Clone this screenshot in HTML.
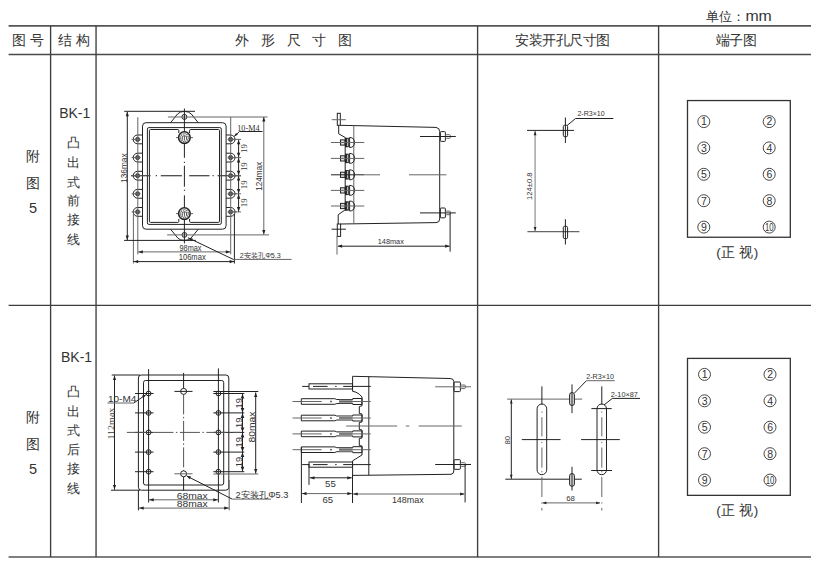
<!DOCTYPE html>
<html><head><meta charset="utf-8">
<style>
html,body{margin:0;padding:0;background:#fff;}
body{width:823px;height:569px;overflow:hidden;position:relative;}
svg{position:absolute;left:0;top:0;}
text{font-family:"Liberation Sans",sans-serif;}
.t{fill:#333;}
.tg{fill:#333;}
.tb line,.tb rect{stroke:#3e3e3e;stroke-width:1.35;fill:none;}
.d line,.d path,.d rect,.d circle,.d polyline{stroke:#222;stroke-width:1;fill:none;}
.d .g{stroke:#666;}
.d .c2{stroke:#444;stroke-width:1.25;}
.d .cl{stroke:#555;stroke-dasharray:20 2.5 1.5 2.5;}
.ar{fill:#222;stroke:none;}
</style></head><body>
<svg width="823" height="569" viewBox="0 0 823 569">
<g class="tb">
<line x1="8.6" y1="25.85" x2="811" y2="25.85" style="stroke:#555;stroke-width:1.6"/>
<line x1="8.6" y1="54.4" x2="811" y2="54.4" style="stroke:#4a4a4a;stroke-width:1.45"/>
<line x1="8.6" y1="305.4" x2="811" y2="305.4"/>
<line x1="8.6" y1="557.0" x2="811" y2="557.0" style="stroke:#555;stroke-width:1.6"/>
<line x1="50.6" y1="25.85" x2="50.6" y2="557"/>
<line x1="96.05" y1="25.85" x2="96.05" y2="557"/>
<line x1="477.6" y1="25.85" x2="477.6" y2="557"/>
<line x1="658.6" y1="25.85" x2="658.6" y2="557"/>
</g>
<text x="706" y="20.8" font-size="13.3" text-anchor="start" class="t">单位：</text>
<text x="745.4" y="20.8" font-size="14.2" text-anchor="start" class="t" textLength="26.4" lengthAdjust="spacingAndGlyphs">mm</text>
<text x="12.3" y="45.4" font-size="13.5" text-anchor="start" class="t" textLength="31.5">图 号</text>
<text x="57.5" y="45.4" font-size="13.5" text-anchor="start" class="t" textLength="32.5">结 构</text>
<text x="235" y="45.4" font-size="13.5" text-anchor="start" class="t" textLength="117">外形尺寸图</text>
<text x="515" y="45.4" font-size="13.5" text-anchor="start" class="t" textLength="95">安装开孔尺寸图</text>
<text x="715.5" y="45.4" font-size="13.5" text-anchor="start" class="t" textLength="41">端子图</text>
<text x="25.9" y="161.2" font-size="14" text-anchor="start" class="t">附</text>
<text x="25.9" y="187.6" font-size="14" text-anchor="start" class="t">图</text>
<text x="29" y="213.3" font-size="14.5" text-anchor="start" class="t">5</text>
<text x="25.9" y="422.2" font-size="14" text-anchor="start" class="t">附</text>
<text x="25.9" y="449.2" font-size="14" text-anchor="start" class="t">图</text>
<text x="29" y="474.3" font-size="14.5" text-anchor="start" class="t">5</text>
<text x="59.2" y="118.2" font-size="14" text-anchor="start" class="t">BK-1</text>
<text x="61" y="361.9" font-size="14" text-anchor="start" class="t">BK-1</text>
<text x="67.3" y="147.2" font-size="13.3" text-anchor="start" class="t">凸</text>
<text x="67.3" y="166.8" font-size="13.3" text-anchor="start" class="t">出</text>
<text x="67.3" y="186.6" font-size="13.3" text-anchor="start" class="t">式</text>
<text x="67.3" y="205.4" font-size="13.3" text-anchor="start" class="t">前</text>
<text x="67.3" y="223.6" font-size="13.3" text-anchor="start" class="t">接</text>
<text x="67.3" y="243.8" font-size="13.3" text-anchor="start" class="t">线</text>
<text x="67.3" y="396.2" font-size="13.3" text-anchor="start" class="t">凸</text>
<text x="67.3" y="415.8" font-size="13.3" text-anchor="start" class="t">出</text>
<text x="67.3" y="435.2" font-size="13.3" text-anchor="start" class="t">式</text>
<text x="67.3" y="454.2" font-size="13.3" text-anchor="start" class="t">后</text>
<text x="67.3" y="473.0" font-size="13.3" text-anchor="start" class="t">接</text>
<text x="67.3" y="492.8" font-size="13.3" text-anchor="start" class="t">线</text>
<g class="d">
<rect x="687.5" y="100.55" width="102.8" height="136.7" style="stroke:#333;stroke-width:1.3"/>
<circle cx="703.8" cy="121.6" r="6" style="stroke:#333;stroke-width:0.9"/>
<circle cx="769.2" cy="121.6" r="6" style="stroke:#333;stroke-width:0.9"/>
<circle cx="703.8" cy="147.9" r="6" style="stroke:#333;stroke-width:0.9"/>
<circle cx="769.2" cy="147.9" r="6" style="stroke:#333;stroke-width:0.9"/>
<circle cx="703.8" cy="174.3" r="6" style="stroke:#333;stroke-width:0.9"/>
<circle cx="769.2" cy="174.3" r="6" style="stroke:#333;stroke-width:0.9"/>
<circle cx="703.8" cy="200.7" r="6" style="stroke:#333;stroke-width:0.9"/>
<circle cx="769.2" cy="200.7" r="6" style="stroke:#333;stroke-width:0.9"/>
<circle cx="703.8" cy="227.1" r="6" style="stroke:#333;stroke-width:0.9"/>
<circle cx="769.2" cy="227.1" r="6" style="stroke:#333;stroke-width:0.9"/>
</g>
<text x="703.9" y="125.39999999999999" font-size="10.5" text-anchor="middle" class="t">1</text>
<text x="769.3000000000001" y="125.39999999999999" font-size="10.5" text-anchor="middle" class="t">2</text>
<text x="703.9" y="151.70000000000002" font-size="10.5" text-anchor="middle" class="t">3</text>
<text x="769.3000000000001" y="151.70000000000002" font-size="10.5" text-anchor="middle" class="t">4</text>
<text x="703.9" y="178.10000000000002" font-size="10.5" text-anchor="middle" class="t">5</text>
<text x="769.3000000000001" y="178.10000000000002" font-size="10.5" text-anchor="middle" class="t">6</text>
<text x="703.9" y="204.5" font-size="10.5" text-anchor="middle" class="t">7</text>
<text x="769.3000000000001" y="204.5" font-size="10.5" text-anchor="middle" class="t">8</text>
<text x="703.9" y="230.9" font-size="10.5" text-anchor="middle" class="t">9</text>
<text x="769.2" y="230.79999999999998" font-size="10" text-anchor="middle" class="t" textLength="8.6" lengthAdjust="spacingAndGlyphs">10</text>
<text x="716.3" y="256.8" font-size="13.5" text-anchor="start" class="t" textLength="42">(正 视)</text>
<g class="d">
<rect x="687.5" y="358.4" width="102.8" height="136.95000000000005" style="stroke:#333;stroke-width:1.3"/>
<circle cx="704.5" cy="374.4" r="6" style="stroke:#333;stroke-width:0.9"/>
<circle cx="770" cy="374.4" r="6" style="stroke:#333;stroke-width:0.9"/>
<circle cx="704.5" cy="400.8" r="6" style="stroke:#333;stroke-width:0.9"/>
<circle cx="770" cy="400.8" r="6" style="stroke:#333;stroke-width:0.9"/>
<circle cx="704.5" cy="427.2" r="6" style="stroke:#333;stroke-width:0.9"/>
<circle cx="770" cy="427.2" r="6" style="stroke:#333;stroke-width:0.9"/>
<circle cx="704.5" cy="453.7" r="6" style="stroke:#333;stroke-width:0.9"/>
<circle cx="770" cy="453.7" r="6" style="stroke:#333;stroke-width:0.9"/>
<circle cx="704.5" cy="480.1" r="6" style="stroke:#333;stroke-width:0.9"/>
<circle cx="770" cy="480.1" r="6" style="stroke:#333;stroke-width:0.9"/>
</g>
<text x="704.6" y="378.2" font-size="10.5" text-anchor="middle" class="t">1</text>
<text x="770.1" y="378.2" font-size="10.5" text-anchor="middle" class="t">2</text>
<text x="704.6" y="404.6" font-size="10.5" text-anchor="middle" class="t">3</text>
<text x="770.1" y="404.6" font-size="10.5" text-anchor="middle" class="t">4</text>
<text x="704.6" y="431.0" font-size="10.5" text-anchor="middle" class="t">5</text>
<text x="770.1" y="431.0" font-size="10.5" text-anchor="middle" class="t">6</text>
<text x="704.6" y="457.5" font-size="10.5" text-anchor="middle" class="t">7</text>
<text x="770.1" y="457.5" font-size="10.5" text-anchor="middle" class="t">8</text>
<text x="704.6" y="483.90000000000003" font-size="10.5" text-anchor="middle" class="t">9</text>
<text x="770" y="483.8" font-size="10" text-anchor="middle" class="t" textLength="8.6" lengthAdjust="spacingAndGlyphs">10</text>
<text x="716.3" y="515" font-size="13.5" text-anchor="start" class="t" textLength="42">(正 视)</text>
<g class="d">
<rect x="142.5" y="122.7" width="83.6" height="106.5" rx="3.5"/>
<rect x="147.4" y="127.6" width="73.9" height="96.8" rx="1.5"/>
<path d="M150.6,129.5 L177.8,129.5 Q178.8,129.5 178.8,130.5 L178.8,133.0 M189.6,133.0 L189.6,130.5 Q189.6,129.5 190.6,129.5 L218.3,129.5 Q219.5,129.5 219.5,130.7 L219.5,221.20000000000002 Q219.5,222.4 218.3,222.4 L190.6,222.4 Q189.6,222.4 189.6,221.4 L189.6,218.9 M178.8,218.9 L178.8,221.4 Q178.8,222.4 177.8,222.4 L150.6,222.4 Q149.4,222.4 149.4,221.20000000000002 L149.4,130.7 Q149.4,129.5 150.6,129.5"/>
<circle cx="184.4" cy="137.6" r="5.8" style="stroke-width:1.6"/>
<circle cx="184.4" cy="137.6" r="3.9" style="stroke:#444;stroke-width:1.3;stroke-dasharray:1.1 0.9"/>
<path d="M182.3,139.79999999999998 L182.3,136.4 Q184.4,135.0 186.5,136.4 L186.5,139.79999999999998 M184.4,135.79999999999998 L184.4,140.6" style="stroke:#444;stroke-width:0.9"/>
<line x1="176" y1="137.6" x2="178" y2="137.6" class="g"/>
<line x1="191" y1="137.6" x2="193" y2="137.6" class="g"/>
<circle cx="184.4" cy="213.6" r="5.8" style="stroke-width:1.6"/>
<circle cx="184.4" cy="213.6" r="3.9" style="stroke:#444;stroke-width:1.3;stroke-dasharray:1.1 0.9"/>
<path d="M182.3,215.79999999999998 L182.3,212.4 Q184.4,211.0 186.5,212.4 L186.5,215.79999999999998 M184.4,211.79999999999998 L184.4,216.6" style="stroke:#444;stroke-width:0.9"/>
<line x1="176" y1="213.6" x2="178" y2="213.6" class="g"/>
<line x1="191" y1="213.6" x2="193" y2="213.6" class="g"/>
<path d="M170.5,122.8 L177.5,114 Q180,111.4 184.4,111.4 Q188.8,111.4 191.3,114 L198.3,122.8"/>
<path d="M170.5,229.2 L178,238.3 Q180.2,240.4 184.4,240.4 Q188.6,240.4 190.8,238.3 L198.3,229.2"/>
<circle cx="184.4" cy="116.9" r="2.5"/>
<circle cx="184.4" cy="234.9" r="2.4"/>
<line x1="167.9" y1="117.0" x2="267.5" y2="117.0" class="g"/>
<line x1="167.2" y1="234.9" x2="269" y2="234.9" class="g"/>
<line x1="184.4" y1="108.5" x2="184.4" y2="131.6"/>
<line x1="184.4" y1="143.6" x2="184.4" y2="157.8"/>
<line x1="184.4" y1="161.8" x2="184.4" y2="163"/>
<line x1="184.4" y1="165.7" x2="184.4" y2="186.7"/>
<line x1="184.4" y1="189.7" x2="184.4" y2="190.9"/>
<line x1="184.4" y1="195.3" x2="184.4" y2="207.6"/>
<line x1="184.4" y1="219.6" x2="184.4" y2="243.4"/>
<line x1="131" y1="175.7" x2="150.6" y2="175.7" class="c2"/>
<line x1="155.8" y1="175.7" x2="157" y2="175.7" class="c2"/>
<line x1="160.8" y1="175.7" x2="181.9" y2="175.7" class="c2"/>
<line x1="189.2" y1="175.7" x2="209.5" y2="175.7" class="c2"/>
<line x1="212.5" y1="175.7" x2="213.7" y2="175.7" class="c2"/>
<line x1="217.5" y1="175.7" x2="241" y2="175.7" class="c2"/>
<path d="M142.5,135.0 L137.6,135.0 A4.4,4.4 0 0 0 137.6,143.8 L142.5,143.8"/>
<circle cx="137.6" cy="139.4" r="2.1" style="fill:#555;stroke:#333;stroke-width:0.8"/>
<line x1="131.6" y1="139.4" x2="140.6" y2="139.4" class="g"/>
<path d="M226.1,135.0 L230.6,135.0 A4.4,4.4 0 0 1 230.6,143.8 L226.1,143.8"/>
<circle cx="230.6" cy="139.4" r="2.1" style="fill:#555;stroke:#333;stroke-width:0.8"/>
<line x1="227.6" y1="139.4" x2="236.6" y2="139.4" class="g"/>
<path d="M142.5,153.2 L137.6,153.2 A4.4,4.4 0 0 0 137.6,162.0 L142.5,162.0"/>
<circle cx="137.6" cy="157.6" r="2.1" style="fill:#555;stroke:#333;stroke-width:0.8"/>
<line x1="131.6" y1="157.6" x2="140.6" y2="157.6" class="g"/>
<path d="M226.1,153.2 L230.6,153.2 A4.4,4.4 0 0 1 230.6,162.0 L226.1,162.0"/>
<circle cx="230.6" cy="157.6" r="2.1" style="fill:#555;stroke:#333;stroke-width:0.8"/>
<line x1="227.6" y1="157.6" x2="236.6" y2="157.6" class="g"/>
<path d="M142.5,171.29999999999998 L137.6,171.29999999999998 A4.4,4.4 0 0 0 137.6,180.1 L142.5,180.1"/>
<circle cx="137.6" cy="175.7" r="2.1" style="fill:#555;stroke:#333;stroke-width:0.8"/>
<line x1="131.6" y1="175.7" x2="140.6" y2="175.7" class="g"/>
<path d="M226.1,171.29999999999998 L230.6,171.29999999999998 A4.4,4.4 0 0 1 230.6,180.1 L226.1,180.1"/>
<circle cx="230.6" cy="175.7" r="2.1" style="fill:#555;stroke:#333;stroke-width:0.8"/>
<line x1="227.6" y1="175.7" x2="236.6" y2="175.7" class="g"/>
<path d="M142.5,189.4 L137.6,189.4 A4.4,4.4 0 0 0 137.6,198.20000000000002 L142.5,198.20000000000002"/>
<circle cx="137.6" cy="193.8" r="2.1" style="fill:#555;stroke:#333;stroke-width:0.8"/>
<line x1="131.6" y1="193.8" x2="140.6" y2="193.8" class="g"/>
<path d="M226.1,189.4 L230.6,189.4 A4.4,4.4 0 0 1 230.6,198.20000000000002 L226.1,198.20000000000002"/>
<circle cx="230.6" cy="193.8" r="2.1" style="fill:#555;stroke:#333;stroke-width:0.8"/>
<line x1="227.6" y1="193.8" x2="236.6" y2="193.8" class="g"/>
<path d="M142.5,207.5 L137.6,207.5 A4.4,4.4 0 0 0 137.6,216.3 L142.5,216.3"/>
<circle cx="137.6" cy="211.9" r="2.1" style="fill:#555;stroke:#333;stroke-width:0.8"/>
<line x1="131.6" y1="211.9" x2="140.6" y2="211.9" class="g"/>
<path d="M226.1,207.5 L230.6,207.5 A4.4,4.4 0 0 1 230.6,216.3 L226.1,216.3"/>
<circle cx="230.6" cy="211.9" r="2.1" style="fill:#555;stroke:#333;stroke-width:0.8"/>
<line x1="227.6" y1="211.9" x2="236.6" y2="211.9" class="g"/>
<line x1="137.8" y1="117.2" x2="137.8" y2="254.4" class="g"/>
<line x1="133.4" y1="214" x2="133.4" y2="263.5" class="g"/>
<line x1="230.7" y1="117" x2="230.7" y2="254.4" class="g"/>
<line x1="234.4" y1="214" x2="234.4" y2="263.5"/>
<line x1="124.2" y1="111.3" x2="195" y2="111.3"/>
<line x1="124.1" y1="240.4" x2="195.8" y2="240.4"/>
<line x1="127.3" y1="112" x2="127.3" y2="240"/>
<polygon class="ar" points="127.30,111.80 125.70,116.30 128.90,116.30"/>
<polygon class="ar" points="127.30,239.90 125.70,235.40 128.90,235.40"/>
<text x="126.6" y="168.2" font-size="8.6" text-anchor="middle" class="t" transform="rotate(-90 126.6 168.2)" textLength="29.5" lengthAdjust="spacingAndGlyphs">136max</text>
<line x1="138" y1="251.9" x2="230.6" y2="251.9" class="g"/>
<polygon class="ar" points="138.30,251.90 142.80,250.30 142.80,253.50"/>
<polygon class="ar" points="230.30,251.90 225.80,250.30 225.80,253.50"/>
<text x="190.5" y="250.6" font-size="8.2" text-anchor="middle" class="tg" textLength="22" lengthAdjust="spacingAndGlyphs">98max</text>
<line x1="133.4" y1="261.6" x2="234.4" y2="261.6"/>
<polygon class="ar" points="133.70,261.60 138.20,260.00 138.20,263.20"/>
<polygon class="ar" points="234.10,261.60 229.60,260.00 229.60,263.20"/>
<text x="192.2" y="259.9" font-size="8.2" text-anchor="middle" class="tg" textLength="27" lengthAdjust="spacingAndGlyphs">106max</text>
<line x1="263.8" y1="117" x2="263.8" y2="234.5" class="g"/>
<polygon class="ar" points="263.80,117.00 262.20,121.50 265.40,121.50"/>
<polygon class="ar" points="263.80,234.50 262.20,230.00 265.40,230.00"/>
<text x="261.6" y="176.3" font-size="8.6" text-anchor="middle" class="t" transform="rotate(-90 261.6 176.3)" textLength="29" lengthAdjust="spacingAndGlyphs">124max</text>
<line x1="238.6" y1="139.4" x2="238.6" y2="211.9"/>
<line x1="232" y1="139.4" x2="241" y2="139.4" class="g"/>
<line x1="232" y1="157.6" x2="241" y2="157.6" class="g"/>
<line x1="232" y1="175.7" x2="241" y2="175.7" class="g"/>
<line x1="232" y1="193.8" x2="241" y2="193.8" class="g"/>
<line x1="232" y1="211.9" x2="241" y2="211.9" class="g"/>
<polygon class="ar" points="238.60,139.90 236.90,144.30 240.30,144.30"/>
<polygon class="ar" points="238.60,157.10 236.90,152.70 240.30,152.70"/>
<text x="246.8" y="148.5" font-size="8.8" text-anchor="middle" class="t" transform="rotate(-90 246.8 148.5)" style="font-family:'Liberation Serif',serif">19</text>
<polygon class="ar" points="238.60,158.10 236.90,162.50 240.30,162.50"/>
<polygon class="ar" points="238.60,175.20 236.90,170.80 240.30,170.80"/>
<text x="246.8" y="166.64999999999998" font-size="8.8" text-anchor="middle" class="t" transform="rotate(-90 246.8 166.64999999999998)" style="font-family:'Liberation Serif',serif">19</text>
<polygon class="ar" points="238.60,176.20 236.90,180.60 240.30,180.60"/>
<polygon class="ar" points="238.60,193.30 236.90,188.90 240.30,188.90"/>
<text x="246.8" y="184.75" font-size="8.8" text-anchor="middle" class="t" transform="rotate(-90 246.8 184.75)" style="font-family:'Liberation Serif',serif">19</text>
<polygon class="ar" points="238.60,194.30 236.90,198.70 240.30,198.70"/>
<polygon class="ar" points="238.60,211.40 236.90,207.00 240.30,207.00"/>
<text x="246.8" y="202.85000000000002" font-size="8.8" text-anchor="middle" class="t" transform="rotate(-90 246.8 202.85000000000002)" style="font-family:'Liberation Serif',serif">19</text>
<text x="237.3" y="131.0" font-size="7.9" text-anchor="start" class="t" style="font-family:'Liberation Serif',serif" textLength="22.2" lengthAdjust="spacingAndGlyphs">10-M4</text>
<line x1="239.5" y1="131.5" x2="262.5" y2="131.5"/>
<line x1="239.5" y1="131.5" x2="234.3" y2="136.3"/>
<polygon class="ar" points="234.00,136.60 236.05,132.93 237.82,134.83"/>
<line x1="187.9" y1="237.7" x2="233.7" y2="259.6"/>
<polygon class="ar" points="188.40,237.90 192.79,238.45 191.58,240.98"/>
<line x1="233.7" y1="259.4" x2="291.6" y2="259.4" class="g"/>
<text x="239.8" y="257.9" font-size="7" text-anchor="start" class="t" textLength="41" lengthAdjust="spacingAndGlyphs">2安装孔Φ5.3</text>
</g>
<g class="d">
<rect x="337.3" y="113.3" width="3" height="12"/>
<line x1="331.7" y1="119.7" x2="345.8" y2="119.7" class="g"/>
<rect x="337.3" y="224" width="3.3" height="12.4"/>
<line x1="331.6" y1="229.2" x2="345.9" y2="229.2"/>
<path d="M340.3,125.3 L436,127.4 Q439.7,127.8 439.7,131.5 L439.7,219 Q439.7,222.6 436,222.6 L340.6,224"/>
<line x1="353.8" y1="125.6" x2="353.8" y2="223.8" class="g"/>
<path d="M338.7,125.3 L338.7,133.8 L345.2,137.5 L345.2,209.8 L338.2,214.7 L338.2,224"/>
<rect x="340.5" y="139.9" width="4.4" height="5.2" style="fill:#ddd"/>
<rect x="345" y="137.8" width="1.9" height="9.4" style="fill:#222;stroke:none"/>
<rect x="346.9" y="138.2" width="1.5" height="8.6" style="stroke-width:0.8"/>
<path d="M349.6,137.5 Q354.5,137.5 354.5,142.5 Q354.5,147.5 349.6,147.5 Z"/>
<line x1="331" y1="142.5" x2="364.3" y2="142.5" class="g"/>
<rect x="340.5" y="155.8" width="4.4" height="5.2" style="fill:#ddd"/>
<rect x="345" y="153.70000000000002" width="1.9" height="9.4" style="fill:#222;stroke:none"/>
<rect x="346.9" y="154.1" width="1.5" height="8.6" style="stroke-width:0.8"/>
<path d="M349.6,153.4 Q354.5,153.4 354.5,158.4 Q354.5,163.4 349.6,163.4 Z"/>
<line x1="331" y1="158.4" x2="364.3" y2="158.4" class="g"/>
<rect x="340.5" y="172.20000000000002" width="4.4" height="5.2" style="fill:#ddd"/>
<rect x="345" y="170.10000000000002" width="1.9" height="9.4" style="fill:#222;stroke:none"/>
<rect x="346.9" y="170.5" width="1.5" height="8.6" style="stroke-width:0.8"/>
<path d="M349.6,169.8 Q354.5,169.8 354.5,174.8 Q354.5,179.8 349.6,179.8 Z"/>
<line x1="331" y1="174.8" x2="364.3" y2="174.8"/>
<rect x="340.5" y="187.8" width="4.4" height="5.2" style="fill:#ddd"/>
<rect x="345" y="185.70000000000002" width="1.9" height="9.4" style="fill:#222;stroke:none"/>
<rect x="346.9" y="186.1" width="1.5" height="8.6" style="stroke-width:0.8"/>
<path d="M349.6,185.4 Q354.5,185.4 354.5,190.4 Q354.5,195.4 349.6,195.4 Z"/>
<line x1="331" y1="190.4" x2="364.3" y2="190.4" class="g"/>
<rect x="340.5" y="203.4" width="4.4" height="5.2" style="fill:#ddd"/>
<rect x="345" y="201.3" width="1.9" height="9.4" style="fill:#222;stroke:none"/>
<rect x="346.9" y="201.7" width="1.5" height="8.6" style="stroke-width:0.8"/>
<path d="M349.6,201.0 Q354.5,201.0 354.5,206.0 Q354.5,211.0 349.6,211.0 Z"/>
<line x1="331" y1="206.0" x2="364.3" y2="206.0" class="g"/>
<line x1="364.3" y1="174.8" x2="380" y2="174.8" class="g"/>
<line x1="409" y1="174.8" x2="446.4" y2="174.8" class="g"/>
<rect x="440.4" y="131.6" width="5" height="9.8" rx="0.8"/>
<rect x="445.4" y="134.7" width="5" height="3.6" rx="1" class="g"/>
<line x1="420" y1="136.5" x2="455.8" y2="136.5"/>
<rect x="440.4" y="208.0" width="5" height="9.8" rx="0.8"/>
<rect x="445.4" y="211.1" width="5" height="3.6" rx="1" class="g"/>
<line x1="420" y1="212.9" x2="455.8" y2="212.9"/>
<line x1="337" y1="236" x2="337" y2="254.6" class="g"/>
<line x1="450.1" y1="213" x2="450.1" y2="251.7"/>
<line x1="338" y1="246.2" x2="449.6" y2="246.2"/>
<polygon class="ar" points="337.60,246.20 342.10,244.60 342.10,247.80"/>
<polygon class="ar" points="449.70,246.20 445.20,244.60 445.20,247.80"/>
<text x="390.8" y="244" font-size="6.8" text-anchor="middle" class="t" textLength="26" lengthAdjust="spacingAndGlyphs">148max</text>
</g>
<g class="d">
<line x1="527" y1="130.4" x2="574" y2="130.4"/>
<line x1="527.4" y1="231.6" x2="579.4" y2="231.6" style="stroke:#666;stroke-width:1.3"/>
<line x1="535.1" y1="131" x2="535.1" y2="231" style="stroke:#999;stroke-width:1.3"/>
<polygon class="ar" points="535.10,131.00 533.70,135.20 536.50,135.20"/>
<polygon class="ar" points="535.10,231.10 533.70,226.90 536.50,226.90"/>
<rect x="563.3" y="125.2" width="4.3" height="11.499999999999986" rx="1.4"/>
<line x1="565.4" y1="117.5" x2="565.4" y2="143"/>
<rect x="563.3" y="226.3" width="4.3" height="12.299999999999983" rx="1.4"/>
<line x1="565.4" y1="219.2" x2="565.4" y2="244.5"/>
<line x1="567" y1="125.6" x2="575.5" y2="118.5"/>
<line x1="575.5" y1="118.5" x2="613.4" y2="118.5"/>
<text x="577.4" y="116.2" font-size="7.3" text-anchor="start" class="t" textLength="27.3" lengthAdjust="spacingAndGlyphs">2-R3×10</text>
<text x="532" y="186.2" font-size="7.2" text-anchor="middle" class="t" transform="rotate(-90 532 186.2)" textLength="27.5" lengthAdjust="spacingAndGlyphs">124±0.8</text>
</g>
<g class="d">
<rect x="138.4" y="375" width="90.4" height="115.2" rx="3"/>
<rect x="143.5" y="380.5" width="80.2" height="104.5" rx="2"/>
<line x1="111.7" y1="375" x2="140" y2="375"/>
<line x1="111" y1="490.2" x2="140" y2="490.2"/>
<line x1="114.5" y1="375.5" x2="114.5" y2="489.7"/>
<polygon class="ar" points="114.50,375.60 112.90,380.10 116.10,380.10"/>
<polygon class="ar" points="114.50,489.60 112.90,485.10 116.10,485.10"/>
<text x="113.6" y="423.6" font-size="8.2" text-anchor="middle" class="tg" transform="rotate(-90 113.6 423.6)" style="font-family:'Liberation Serif',serif" textLength="32" lengthAdjust="spacingAndGlyphs">112max</text>
<line x1="148.6" y1="369.2" x2="148.6" y2="502.5"/>
<line x1="218.4" y1="368.4" x2="218.4" y2="502.5"/>
<line x1="183.6" y1="372.9" x2="183.6" y2="388.4"/>
<line x1="183.6" y1="394.4" x2="183.6" y2="470.8" class="cl"/>
<line x1="183.6" y1="476.8" x2="183.6" y2="490.5"/>
<circle cx="148.6" cy="393.5" r="2.4"/>
<circle cx="218.4" cy="393.5" r="2.4"/>
<line x1="135" y1="393.5" x2="153.5" y2="393.5"/>
<line x1="213.3" y1="393.5" x2="244.3" y2="393.5"/>
<circle cx="148.6" cy="412.9" r="2.4"/>
<circle cx="218.4" cy="412.9" r="2.4"/>
<line x1="135" y1="412.9" x2="153.5" y2="412.9"/>
<line x1="213.3" y1="412.9" x2="244.3" y2="412.9"/>
<circle cx="148.6" cy="432.4" r="2.4"/>
<circle cx="218.4" cy="432.4" r="2.4"/>
<line x1="135" y1="432.4" x2="153.5" y2="432.4"/>
<line x1="213.3" y1="432.4" x2="244.3" y2="432.4"/>
<circle cx="148.6" cy="452.1" r="2.4"/>
<circle cx="218.4" cy="452.1" r="2.4"/>
<line x1="135" y1="452.1" x2="153.5" y2="452.1"/>
<line x1="213.3" y1="452.1" x2="244.3" y2="452.1"/>
<circle cx="148.6" cy="471.7" r="2.4"/>
<circle cx="218.4" cy="471.7" r="2.4"/>
<line x1="135" y1="471.7" x2="153.5" y2="471.7"/>
<line x1="213.3" y1="471.7" x2="244.3" y2="471.7"/>
<circle cx="183.6" cy="391.4" r="3"/>
<circle cx="183.6" cy="473.8" r="3"/>
<line x1="174.4" y1="391.4" x2="192.5" y2="391.4"/>
<line x1="174.4" y1="473.8" x2="192.5" y2="473.8" class="g"/>
<line x1="126.9" y1="432.4" x2="240" y2="432.4" class="cl"/>
<line x1="213.3" y1="391.5" x2="258.3" y2="391.5"/>
<line x1="213.3" y1="474" x2="258.3" y2="474" class="g"/>
<line x1="242.5" y1="393.5" x2="242.5" y2="471.5"/>
<polygon class="ar" points="242.50,393.90 240.70,398.50 244.30,398.50"/>
<polygon class="ar" points="242.50,412.50 240.70,407.90 244.30,407.90"/>
<text x="242.2" y="403.2" font-size="9.4" text-anchor="middle" class="tg" transform="rotate(-90 242.2 403.2)">19</text>
<polygon class="ar" points="242.50,413.30 240.70,417.90 244.30,417.90"/>
<polygon class="ar" points="242.50,432.00 240.70,427.40 244.30,427.40"/>
<text x="242.2" y="422.65" font-size="9.4" text-anchor="middle" class="tg" transform="rotate(-90 242.2 422.65)">19</text>
<polygon class="ar" points="242.50,432.80 240.70,437.40 244.30,437.40"/>
<polygon class="ar" points="242.50,451.70 240.70,447.10 244.30,447.10"/>
<text x="242.2" y="442.25" font-size="9.4" text-anchor="middle" class="tg" transform="rotate(-90 242.2 442.25)">19</text>
<polygon class="ar" points="242.50,452.50 240.70,457.10 244.30,457.10"/>
<polygon class="ar" points="242.50,471.30 240.70,466.70 244.30,466.70"/>
<text x="242.2" y="461.9" font-size="9.4" text-anchor="middle" class="tg" transform="rotate(-90 242.2 461.9)">19</text>
<line x1="255.7" y1="392.5" x2="255.7" y2="473.5"/>
<polygon class="ar" points="255.70,392.50 254.10,397.00 257.30,397.00"/>
<polygon class="ar" points="255.70,473.50 254.10,469.00 257.30,469.00"/>
<text x="254.6" y="427" font-size="9.4" text-anchor="middle" class="tg" transform="rotate(-90 254.6 427)" textLength="31" lengthAdjust="spacingAndGlyphs">80max</text>
<line x1="148.6" y1="499.8" x2="218" y2="499.8" class="g"/>
<polygon class="ar" points="149.20,499.80 153.70,498.20 153.70,501.40"/>
<polygon class="ar" points="217.80,499.80 213.30,498.20 213.30,501.40"/>
<text x="192.2" y="499.4" font-size="8.8" text-anchor="middle" class="tg" textLength="31" lengthAdjust="spacingAndGlyphs">68max</text>
<line x1="229.2" y1="480" x2="229.2" y2="510.4" class="g"/>
<line x1="138.4" y1="490" x2="138.4" y2="510.4"/>
<line x1="138.8" y1="508.1" x2="229" y2="508.1" class="g"/>
<polygon class="ar" points="139.20,508.10 143.70,506.50 143.70,509.70"/>
<polygon class="ar" points="228.70,508.10 224.20,506.50 224.20,509.70"/>
<text x="192.2" y="507.2" font-size="8.8" text-anchor="middle" class="tg" textLength="31" lengthAdjust="spacingAndGlyphs">88max</text>
<text x="108" y="401.8" font-size="9.2" text-anchor="start" class="tg" textLength="28.3" lengthAdjust="spacingAndGlyphs">10-M4</text>
<line x1="107.4" y1="403" x2="133.8" y2="403" class="g"/>
<line x1="133.8" y1="403" x2="145.5" y2="395"/>
<polygon class="ar" points="146.20,394.50 143.53,398.03 141.94,395.72"/>
<line x1="187.1" y1="476.2" x2="232.2" y2="499.1"/>
<polygon class="ar" points="186.40,475.80 191.00,476.46 189.64,479.13"/>
<line x1="232.2" y1="499.1" x2="271" y2="499.1" class="g"/>
<text x="235.4" y="498.3" font-size="9" text-anchor="start" class="tg" textLength="53" lengthAdjust="spacingAndGlyphs">2安装孔Φ5.3</text>
</g>
<g class="d">
<path d="M352.6,460.9 L352.6,475.4 L451,474.3 Q453.8,474 453.8,471 L453.8,381.5 Q453.8,378.6 450.1,378.5 L352.6,376.3 L352.6,391.3 Q356,391.6 359.3,394.2 L362,397 L362,405.8 L359.3,406.5 L359.3,413.5 L362,414 L362,422 L359.3,422.5 L359.3,429.5 L362,430 L362,438 L359.3,438.5 L359.3,445.5 L362,446 L362,455 Q357,458 352.6,460.9"/>
<line x1="368.8" y1="376.5" x2="368.8" y2="475.2"/>
<rect x="309" y="383.79999999999995" width="43.5" height="5.2"/>
<line x1="302.2" y1="386.4" x2="309" y2="386.4"/>
<line x1="352.5" y1="386.4" x2="370.8" y2="386.4"/>
<line x1="313" y1="386.4" x2="327.6" y2="386.4"/>
<line x1="335.2" y1="386.4" x2="336.6" y2="386.4"/>
<line x1="343.2" y1="386.4" x2="352.5" y2="386.4"/>
<rect x="309" y="462.0" width="43.5" height="5.2"/>
<line x1="302.2" y1="464.6" x2="309" y2="464.6"/>
<line x1="352.5" y1="464.6" x2="370.8" y2="464.6"/>
<line x1="313" y1="464.6" x2="327.6" y2="464.6"/>
<line x1="335.2" y1="464.6" x2="336.6" y2="464.6"/>
<line x1="343.2" y1="464.6" x2="352.5" y2="464.6"/>
<path d="M301.3,398.7 L334.8,398.7 L336.8,399.5 L352.8,399.5 L352.8,398.5 L362,398.5 L362,404.5 L352.8,404.5 L352.8,403.5 L336.8,403.5 L334.8,404.3 L301.3,404.3 Z"/>
<rect x="339" y="399.7" width="13.5" height="3.6" style="fill:#999;stroke:none"/>
<line x1="292.5" y1="401.5" x2="321.7" y2="401.5" class="g"/>
<line x1="339.2" y1="401.5" x2="370.8" y2="401.5" class="g"/>
<circle cx="331" cy="401.5" r="0.9" style="fill:#555;stroke:none"/>
<path d="M301.3,415.2 L334.8,415.2 L336.8,416.0 L352.8,416.0 L352.8,415.0 L362,415.0 L362,421.0 L352.8,421.0 L352.8,420.0 L336.8,420.0 L334.8,420.8 L301.3,420.8 Z"/>
<rect x="339" y="416.2" width="13.5" height="3.6" style="fill:#999;stroke:none"/>
<line x1="292.5" y1="418.0" x2="321.7" y2="418.0" class="g"/>
<line x1="339.2" y1="418.0" x2="370.8" y2="418.0" class="g"/>
<circle cx="331" cy="418.0" r="0.9" style="fill:#555;stroke:none"/>
<path d="M301.3,431.09999999999997 L334.8,431.09999999999997 L336.8,431.9 L352.8,431.9 L352.8,430.9 L362,430.9 L362,436.9 L352.8,436.9 L352.8,435.9 L336.8,435.9 L334.8,436.7 L301.3,436.7 Z"/>
<rect x="339" y="432.09999999999997" width="13.5" height="3.6" style="fill:#999;stroke:none"/>
<line x1="292.5" y1="433.9" x2="321.7" y2="433.9" class="g"/>
<line x1="339.2" y1="433.9" x2="370.8" y2="433.9" class="g"/>
<circle cx="331" cy="433.9" r="0.9" style="fill:#555;stroke:none"/>
<path d="M301.3,446.9 L334.8,446.9 L336.8,447.7 L352.8,447.7 L352.8,446.7 L362,446.7 L362,452.7 L352.8,452.7 L352.8,451.7 L336.8,451.7 L334.8,452.5 L301.3,452.5 Z"/>
<rect x="339" y="447.9" width="13.5" height="3.6" style="fill:#999;stroke:none"/>
<line x1="292.5" y1="449.7" x2="321.7" y2="449.7" class="g"/>
<line x1="339.2" y1="449.7" x2="370.8" y2="449.7" class="g"/>
<circle cx="331" cy="449.7" r="0.9" style="fill:#555;stroke:none"/>
<line x1="346.2" y1="426" x2="397.2" y2="426" class="g"/>
<line x1="405.8" y1="426" x2="409.3" y2="426" class="g"/>
<line x1="418.7" y1="426" x2="461.8" y2="426" class="g"/>
<rect x="454" y="382.0" width="6.4" height="9.6" rx="0.8"/>
<rect x="460.4" y="385.0" width="5" height="3.6" rx="1" class="g"/>
<line x1="435.2" y1="386.8" x2="471" y2="386.8" class="g"/>
<rect x="454" y="459.7" width="6.4" height="9.6" rx="0.8"/>
<rect x="460.4" y="462.7" width="5" height="3.6" rx="1" class="g"/>
<line x1="435.2" y1="464.5" x2="471" y2="464.5"/>
<line x1="301.4" y1="447" x2="301.4" y2="503"/>
<line x1="309" y1="464" x2="309" y2="484.9"/>
<line x1="352.5" y1="475" x2="352.5" y2="503"/>
<line x1="465.1" y1="464" x2="465.1" y2="502.4"/>
<line x1="309.8" y1="477.8" x2="351.7" y2="477.8"/>
<polygon class="ar" points="310.00,477.80 314.50,476.20 314.50,479.40"/>
<polygon class="ar" points="351.80,477.80 347.30,476.20 347.30,479.40"/>
<text x="330.4" y="486.6" font-size="9.6" text-anchor="middle" class="tg">55</text>
<line x1="301.9" y1="493.6" x2="351.9" y2="493.6" class="g"/>
<polygon class="ar" points="302.00,493.60 306.50,492.00 306.50,495.20"/>
<polygon class="ar" points="351.90,493.60 347.40,492.00 347.40,495.20"/>
<text x="327.8" y="502.9" font-size="9.6" text-anchor="middle" class="tg">65</text>
<line x1="353" y1="494" x2="464.5" y2="494" class="g"/>
<polygon class="ar" points="353.20,494.00 357.70,492.40 357.70,495.60"/>
<polygon class="ar" points="464.60,494.00 460.10,492.40 460.10,495.60"/>
<text x="407.8" y="502.6" font-size="9.2" text-anchor="middle" class="tg" textLength="31.8" lengthAdjust="spacingAndGlyphs">148max</text>
</g>
<g class="d">
<line x1="507.1" y1="399.1" x2="582.1" y2="399.1" class="g"/>
<line x1="505.3" y1="479.2" x2="581.8" y2="479.2"/>
<line x1="511.3" y1="399.6" x2="511.3" y2="478.8"/>
<polygon class="ar" points="511.30,399.60 510.00,403.60 512.60,403.60"/>
<polygon class="ar" points="511.30,478.80 510.00,474.80 512.60,474.80"/>
<text x="509.8" y="440.2" font-size="7.9" text-anchor="middle" class="tg" transform="rotate(-90 509.8 440.2)">80</text>
<rect x="537.1" y="404" width="9.6" height="70.7" rx="4.8"/>
<rect x="597" y="404" width="9.5" height="70.7" rx="4.75"/>
<line x1="541.9" y1="386.4" x2="541.9" y2="404.5"/>
<line x1="541.9" y1="411.5" x2="541.9" y2="412.7" class="g"/>
<line x1="541.9" y1="417.2" x2="541.9" y2="436.4" class="g"/>
<line x1="541.9" y1="441.8" x2="541.9" y2="443" class="g"/>
<line x1="541.9" y1="447.5" x2="541.9" y2="467.7" class="g"/>
<line x1="541.9" y1="471.1" x2="541.9" y2="472.3" class="g"/>
<line x1="541.9" y1="476.8" x2="541.9" y2="497" class="g"/>
<line x1="541.9" y1="502.4" x2="541.9" y2="503.6" class="g"/>
<line x1="541.9" y1="508" x2="541.9" y2="510.5" class="g"/>
<line x1="601.8" y1="386.4" x2="601.8" y2="404.5"/>
<line x1="601.8" y1="411.5" x2="601.8" y2="412.7" class="g"/>
<line x1="601.8" y1="417.2" x2="601.8" y2="436.4" class="g"/>
<line x1="601.8" y1="441.8" x2="601.8" y2="443" class="g"/>
<line x1="601.8" y1="447.5" x2="601.8" y2="467.7" class="g"/>
<line x1="601.8" y1="471.1" x2="601.8" y2="472.3" class="g"/>
<line x1="601.8" y1="476.8" x2="601.8" y2="497" class="g"/>
<line x1="601.8" y1="502.4" x2="601.8" y2="503.6" class="g"/>
<line x1="601.8" y1="508" x2="601.8" y2="510.5" class="g"/>
<line x1="521.8" y1="439.6" x2="560.5" y2="439.6"/>
<line x1="581.1" y1="439.6" x2="619.8" y2="439.6"/>
<line x1="591.4" y1="408.6" x2="611.7" y2="408.6"/>
<line x1="591.2" y1="470.5" x2="612" y2="470.5"/>
<rect x="569.6" y="392.6" width="4.8" height="12.899999999999977" rx="2.2" style="fill:#ddd"/>
<line x1="572" y1="384.4" x2="572" y2="413.1"/>
<rect x="569.6" y="473.6" width="4.8" height="12.699999999999989" rx="2.2" style="fill:#ddd"/>
<line x1="572" y1="466.8" x2="572" y2="490.5"/>
<line x1="574.5" y1="393" x2="586.4" y2="380.7"/>
<line x1="586.4" y1="380.7" x2="614.7" y2="380.7" class="g"/>
<text x="586.2" y="379.2" font-size="8" text-anchor="start" class="tg" textLength="27.7" lengthAdjust="spacingAndGlyphs">2-R3×10</text>
<line x1="604" y1="405" x2="612.3" y2="398.4"/>
<line x1="612.3" y1="398.4" x2="640" y2="398.4"/>
<text x="610.8" y="397" font-size="8" text-anchor="start" class="tg" textLength="27.1" lengthAdjust="spacingAndGlyphs">2-10×87</text>
<line x1="542.6" y1="502.9" x2="600" y2="502.9" class="g"/>
<polygon class="ar" points="542.40,502.90 546.40,501.60 546.40,504.20"/>
<polygon class="ar" points="600.10,502.90 596.10,501.60 596.10,504.20"/>
<text x="570.6" y="500.8" font-size="7.9" text-anchor="middle" class="tg">68</text>
</g>
</svg>
</body></html>
